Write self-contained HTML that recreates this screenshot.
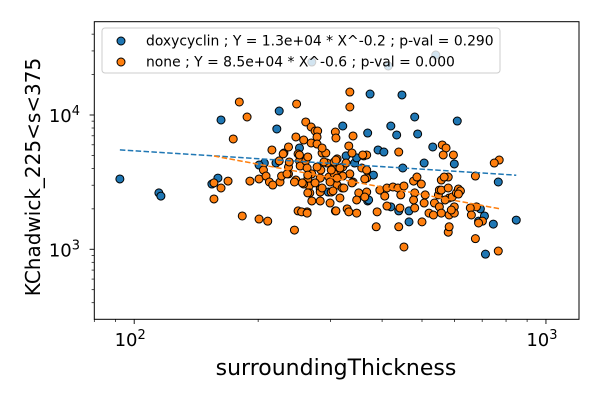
<!DOCTYPE html>
<html><head><meta charset="utf-8">
<style>
html,body{margin:0;padding:0;background:#fff;}
svg{display:block;font-family:"DejaVu Sans","Liberation Sans",sans-serif;}
</style></head>
<body>
<svg id="chart" width="600" height="400" viewBox="0 0 600 400">
<rect x="0" y="0" width="600" height="400" fill="#fff"/>
<g id="plot"></g>
</svg>
<script>
const seriesNames = ["doxycyclin", "none"];
const seriesColors = ["#1f77b4", "#ff7f0e"];
const legendLabels = ["doxycyclin ; Y = 1.3e+04 * X^-0.2 ; p-val = 0.290", "none ; Y = 8.5e+04 * X^-0.6 ; p-val = 0.000"];
const fitCoef = [13350, 86300];
const fitExp = [-0.196, -0.566];
const xTickValues = [100, 1000];
const xTickLabels = ["2", "3"];
const yTickValues = [1000, 10000];
const yTickLabels = ["3", "4"];
const doxyX = [92.3,114.8,116.1,159.7,154.4,162.5,225,222,207,201,252,321,327,343,347,369,221,296,369,374,447,420,434,480,488,609,531,391,404,506,599,449,381,766,371,420,439,465,465,709,745,847,713,693,686,270,414,540];
const doxyY = [3340,2630,2490,3390,3060,9180,10710,7870,4390,4240,5680,8280,4960,4390,4790,7340,4390,2670,2290,14330,14100,8280,7100,9663,7220,9020,5780,5490,5300,4390,4320,4030,3570,3170,2330,2070,1930,1600,1930,1770,1540,1650,920,2000,1620,24800,23170,27950];
const noneX = [180,248,188,174,216,231,237,247,258,261,269,275,279,278,269,278,308,309,156.2,162.5,169,156.2,183,201,211,245,250,263,191,201,206,209,213,217,226,228,237,237,247,225,250,252,253,261,263,264,258,264,266,270,267,270,283,283,283,284,286,294,297,299,301,308,304,311,334,334,340,332,361,367,315,334,340,351,347,329,332,347,283,316,311,320,299,306,321,306,289,278,264,258,245,235,238,230,252,292,286,256,275,286,357,367,367,264,255,263,338,359,439,309,327,301,316,321,311,323,338,363,363,367,309,389,387,439,395,411,425,437,444,406,411,442,452,477,486,498,480,477,509,506,480,500,452,520,533,536,551,548,551,557,579,566,582,592,606,599,557,582,599,579,674,613,557,560,572,563,770,749,766,620,579,674,678,655,659,701,686,582,589,569,596,613,304];
const noneY = [12500,12080,9663,6630,5490,5210,5780,6860,6510,8870,8140,7600,7600,6860,6190,6080,7470,6740,3120,2860,3220,2370,1770,1680,1620,1390,1930,1900,3220,3340,3890,3510,3170,3010,3170,3510,3640,4100,3280,4550,5130,4550,4170,4550,4030,4870,3120,3340,2960,3640,2630,2290,2290,2810,3390,3890,5210,4390,3450,2210,2670,1930,3960,4710,14830,11470,6980,5880,4960,5040,3890,3640,3170,2630,2330,2000,1900,1860,2670,2410,3010,2860,3170,3640,4100,4470,4470,4100,3570,3060,3170,3640,4470,5130,5040,5210,5680,3120,3120,2860,4030,3390,2670,2630,1900,1860,5210,5040,5300,4620,4390,3890,4030,3510,3390,2860,3120,2450,3340,3890,1930,1900,1470,1470,2760,2860,2910,2860,2540,2490,2100,2030,2960,3220,3450,3060,2630,2330,2540,2210,2030,1600,1040,1860,1800,2210,2070,2540,2760,3280,3450,3450,2410,2450,2630,2070,1860,1800,1860,1340,1200,2810,2760,5980,5680,5040,4620,4390,970,2720,2860,3510,2070,2030,1800,1620,1570,1470,1960,2330,5040,2580,2720,2330];

const NS = "http://www.w3.org/2000/svg";
const plot = document.getElementById("plot");
const L = 94.3, R = 579, T = 21.7, B = 319.3;
const xMin = 80, xMax = 1203, yMin = 301, yMax = 49520;
function sx(v){ return L + (Math.log10(v) - Math.log10(xMin)) / (Math.log10(xMax) - Math.log10(xMin)) * (R - L); }
function sy(v){ return B - (Math.log10(v) - Math.log10(yMin)) / (Math.log10(yMax) - Math.log10(yMin)) * (B - T); }
function mk(tag, attrs, parent){ const e = document.createElementNS(NS, tag); for (const k in attrs) e.setAttribute(k, attrs[k]); (parent || plot).appendChild(e); return e; }

const allX = [doxyX, noneX], allY = [doxyY, noneY];
for (let s = 0; s < 2; s++) {
  const g = mk("g", {});
  
  
  for (let i = 0; i < allX[s].length; i++) {
    const c = mk("circle", {cx: sx(allX[s][i]), cy: sy(allY[s][i]), r: 4, fill: seriesColors[s], stroke: "#000", "stroke-width": 1}, g);
    
    
  }
}
for (let s = 0; s < 2; s++) {
  const xs = allX[s];
  const x0 = Math.min(...xs), x1 = Math.max(...xs);
  const ln = mk("line", {x1: sx(x0), y1: sy(fitCoef[s] * Math.pow(x0, fitExp[s])), x2: sx(x1), y2: sy(fitCoef[s] * Math.pow(x1, fitExp[s])), stroke: seriesColors[s], "stroke-width": 1.5, "stroke-dasharray": "5.5,2.4"});
  
  
}
const frame = mk("rect", {x: L, y: T, width: R - L, height: B - T, fill: "none", stroke: "#000", "stroke-width": 1});



for (let d = 1; d <= 3; d++) {
  for (let m = 1; m <= 9; m++) {
    const v = m * Math.pow(10, d);
    if (v < xMin || v > xMax) continue;
    const x = sx(v);
    const t = mk("line", {x1: x, x2: x, y1: B, y2: B + (m === 1 ? 4.7 : 2.7), stroke: "#000", "stroke-width": m === 1 ? 0.9 : 0.7});
    
    
  }
}
xTickValues.forEach((v, i) => {
  const t = mk("text", {x: sx(v) - 4, y: 346, "font-size": 18, "text-anchor": "middle", fill: "#000"});
  t.innerHTML = '10<tspan dy="-7" font-size="13">' + xTickLabels[i] + '</tspan>';
  
  
});
for (let d = 2; d <= 4; d++) {
  for (let m = 1; m <= 9; m++) {
    const v = m * Math.pow(10, d);
    if (v < yMin || v > yMax) continue;
    const y = sy(v);
    const t = mk("line", {x1: L, x2: L - (m === 1 ? 4.7 : 2.7), y1: y, y2: y, stroke: "#000", "stroke-width": m === 1 ? 0.9 : 0.7});
    
    
  }
}
yTickValues.forEach((v, i) => {
  const t = mk("text", {x: 80, y: sy(v) + 7, "font-size": 18, "text-anchor": "end", fill: "#000"});
  t.innerHTML = '10<tspan dy="-7" font-size="13">' + yTickLabels[i] + '</tspan>';
  
  
});
const xt = mk("text", {x: 336, y: 375, "font-size": 22, "text-anchor": "middle", fill: "#000"});
xt.textContent = "surroundingThickness";


const yt = mk("text", {x: 0, y: 0, "font-size": 20, "text-anchor": "middle", fill: "#000", transform: "translate(40,177) rotate(-90)"});
yt.textContent = "KChadwick_225<s<375";



const lg = mk("g", {});


mk("rect", {x: 102, y: 28, width: 398, height: 45, rx: 3, fill: "#fff", "fill-opacity": 0.8, stroke: "#ccc", "stroke-width": 1}, lg);
for (let s = 0; s < 2; s++) {
  const e = mk("g", {}, lg);
  
  
  const y = 41 + s * 21;
  mk("circle", {cx: 121, cy: y, r: 4, fill: seriesColors[s], stroke: "#000", "stroke-width": 1}, e);
  const t = mk("text", {x: 146, y: y + 4.5, "font-size": 13.9, fill: "#000"}, e);
  t.textContent = legendLabels[s];
}
</script>
</body></html>
